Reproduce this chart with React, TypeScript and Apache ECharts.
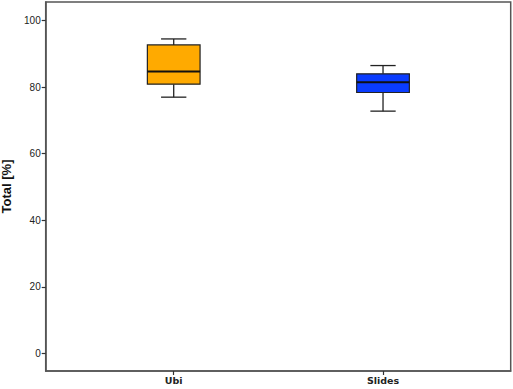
import React, { useEffect, useRef } from "react";
import * as echarts from "echarts";

const categories = ["Ubi", "Slides"];
// [low whisker, Q1, median, Q3, high whisker]
const boxValues = [
  [77.0, 80.9, 84.7, 92.7, 94.5],
  [72.8, 78.4, 81.5, 84.0, 86.5],
];
const boxColors = ["#FFAA00", "#0A3CFF"];
const yTicks = [0, 20, 40, 60, 80, 100];

export default function App() {
  const ref = useRef<HTMLDivElement>(null);
  useEffect(() => {
    const chart = echarts.init(ref.current!, null, { renderer: "svg" });
    const data = boxValues.map((v, i) => [i, ...v]);
    chart.setOption({
      animation: false,
      backgroundColor: "#ffffff",
      grid: {
        left: 45.7,
        top: 2,
        right: 2.3,
        bottom: 18,
        show: true,
        borderColor: "#555",
        borderWidth: 1.5,
        containLabel: false,
        outerBoundsMode: "none",
      },
      xAxis: {
        type: "value",
        min: -0.6116,
        max: 1.61,
        splitLine: { show: false },
        axisLine: { show: true, onZero: false, lineStyle: { color: "#555", width: 1.5 } },
        axisTick: {
          show: true,
          length: 4,
          customValues: [0, 1],
          lineStyle: { color: "#333", width: 1.2 },
        },
        axisLabel: {
          customValues: [0, 1],
          formatter: (v: number) => categories[Math.round(v)] ?? "",
          color: "#222",
          fontSize: 9.5,
          fontWeight: "bold",
          fontFamily: "DejaVu Sans, Arial, sans-serif",
          margin: 4,
        },
      },
      yAxis: {
        type: "value",
        min: -5.3,
        max: 105.6,
        name: "Total [%]",
        nameLocation: "middle",
        nameGap: 30,
        nameTextStyle: {
          fontSize: 13,
          fontWeight: "bold",
          color: "#111",
          fontFamily: "Liberation Sans, Arial, sans-serif",
        },
        splitLine: { show: false },
        axisLine: { show: true, onZero: false, lineStyle: { color: "#555", width: 1.5 } },
        axisTick: {
          show: true,
          length: 4,
          customValues: yTicks,
          lineStyle: { color: "#333", width: 1.2 },
        },
        axisLabel: {
          customValues: yTicks,
          color: "#222",
          fontSize: 10,
          fontFamily: "Liberation Sans, Arial, sans-serif",
          margin: 5,
        },
      },
      series: [
        {
          type: "custom",
          data,
          encode: { x: 0, y: [1, 2, 3, 4, 5] },
          renderItem: (params: any, api: any) => {
            const idx = api.value(0);
            const low = api.coord([idx, api.value(1)]);
            const q1 = api.coord([idx, api.value(2)]);
            const med = api.coord([idx, api.value(3)]);
            const q3 = api.coord([idx, api.value(4)]);
            const high = api.coord([idx, api.value(5)]);
            const cx = low[0];
            const bw = 52.7;
            const cw = 25.3;
            const lineStyle = { stroke: "#222", lineWidth: 1.3 };
            return {
              type: "group",
              children: [
                { type: "line", shape: { x1: cx, y1: high[1], x2: cx, y2: q3[1] }, style: lineStyle },
                { type: "line", shape: { x1: cx, y1: q1[1], x2: cx, y2: low[1] }, style: lineStyle },
                { type: "line", shape: { x1: cx - cw / 2, y1: high[1], x2: cx + cw / 2, y2: high[1] }, style: lineStyle },
                { type: "line", shape: { x1: cx - cw / 2, y1: low[1], x2: cx + cw / 2, y2: low[1] }, style: lineStyle },
                {
                  type: "rect",
                  shape: { x: cx - bw / 2, y: q3[1], width: bw, height: q1[1] - q3[1] },
                  style: { fill: boxColors[idx], stroke: "#222", lineWidth: 1.2 },
                },
                { type: "line", shape: { x1: cx - bw / 2, y1: med[1], x2: cx + bw / 2, y2: med[1] }, style: { stroke: "#111", lineWidth: 2 } },
              ],
            };
          },
        },
      ],
    });
    return () => chart.dispose();
  }, []);
  return (
    <div
      ref={ref}
      style={{ position: "absolute", left: 0, top: 0, width: 513, height: 389 }}
    />
  );
}
